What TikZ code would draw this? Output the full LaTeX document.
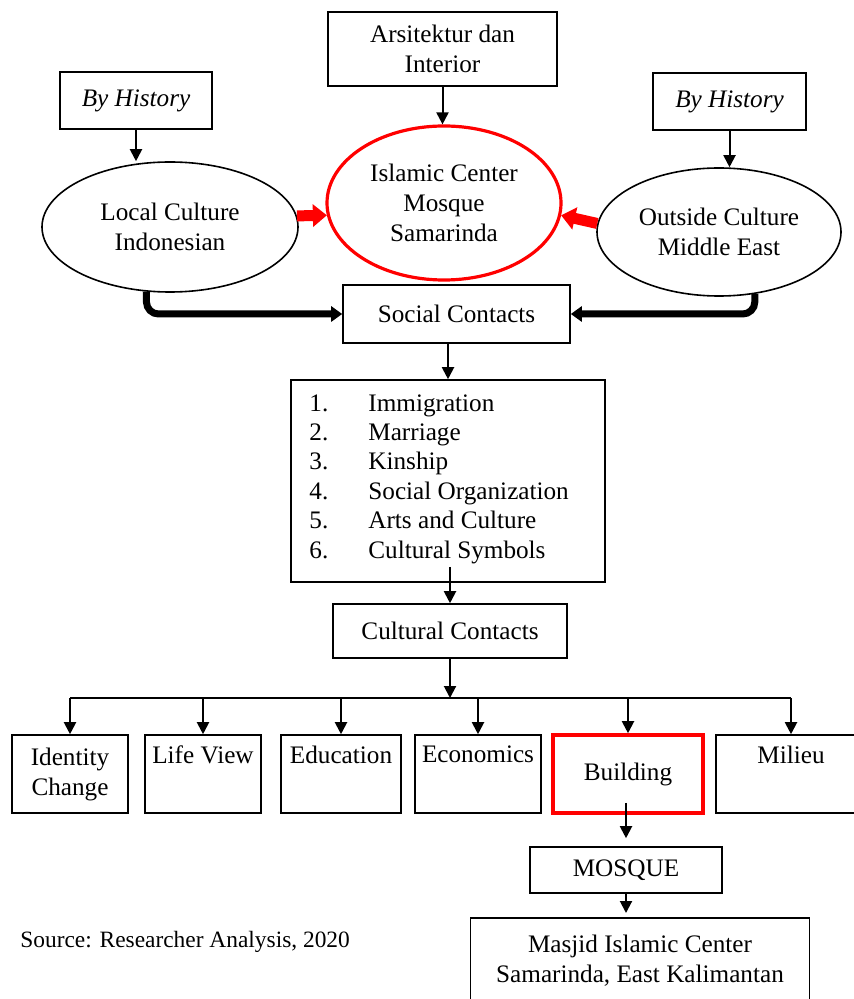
\documentclass[tikz,border=0pt]{standalone}
\usepackage{fontspec}
\setmainfont{Liberation Serif}
\usepackage{tikz}
\usetikzlibrary{positioning}
\usetikzlibrary{shapes.geometric}
\usetikzlibrary{arrows.meta}

\begin{document}
\begin{tikzpicture}[x=0.5pt, y=-0.5pt,
  txt/.style={font=\fontsize{12.6pt}{15pt}\selectfont},
  box/.style={txt, draw, line width=0.8pt, rectangle, inner sep=0pt, align=center},
  oval/.style={txt, draw, line width=0.8pt, ellipse, inner sep=0pt, align=center},
  arr/.style={line width=1pt, -{Triangle[length=6pt,width=6pt]}},
  fatred/.style={red, line width=5.5pt, -{Triangle[length=7pt,width=11pt]}},
  fatblack/.style={line width=3.5pt, rounded corners=6pt, -{Triangle[length=5.5pt,width=7.5pt]}},
  busline/.style={line width=1.3pt}]

\useasboundingbox (0,0) rectangle (854,999);

% TOP %
%%%%%%%%%%%% history and cultures %%%%%%%%%%%%
\node[box, minimum width=114.5pt, minimum height=37pt] (arch) at (442.5,49) {Arsitektur dan\\Interior};
\node[box, minimum width=76pt, minimum height=28.5pt] (histL) at (136,100.5) {\itshape By History};
\node[box, minimum width=76.5pt, minimum height=28.5pt] (histR) at (729.5,101.5) {\itshape By History};

\node[oval, minimum width=128pt, minimum height=65pt] (local) at (170,227) {Local Culture\\Indonesian};
\node[oval, draw=red, line width=1.6pt, minimum width=117pt, minimum height=77pt] (icm) at (444,203) {Islamic Center\\Mosque\\Samarinda};
\node[oval, minimum width=122pt, minimum height=64pt] (outside) at (719,232) {Outside Culture\\Middle East};

\draw[arr] (arch.south) -- (arch.south |- icm.north);
\draw[arr] (histL.south) -- (local.north -| histL.south);
\draw[arr] (histR.south) -- (outside.north -| histR.south);

% red arrows
\draw[fatred] (local.5) -- (icm.186);
\draw[fatred] (outside.176) -- (icm.354);

% MIDDLE %
\node[box, minimum width=113.5pt, minimum height=29pt] (social) at (456.5,314) {Social Contacts};

%black lines
\draw[fatblack] (local.250) |- (social.west);
\draw[fatblack] (outside.300) |- (social.east);

\node[box, minimum width=157pt, minimum height=101pt] (list) at (448,481) {};
\node[txt, font=\fontsize{12.6pt}{14.7pt}\selectfont, align=left, inner sep=0pt, anchor=north west] (items) at (309,394)
{\makebox[29.5pt][l]{1.}Immigration\\
 \makebox[29.5pt][l]{2.}Marriage\\
 \makebox[29.5pt][l]{3.}Kinship\\
 \makebox[29.5pt][l]{4.}Social Organization\\
 \makebox[29.5pt][l]{5.}Arts and Culture\\
 \makebox[29.5pt][l]{6.}Cultural Symbols};

\node[box, minimum width=117pt, minimum height=27pt] (cultural) at (450,631) {Cultural Contacts};

\draw[arr] (list.north |- social.south) -- (list.north);
\draw[arr, shorten <=-8pt] (cultural.north |- list.south) -- (cultural.north);

% BOTTOM %
\coordinate (bus) at (444,698);

\node[box, minimum width=58pt, minimum height=39pt] (identity) at (70,774) {Identity\\Change};
\node[box, minimum width=58pt, minimum height=39pt] (lifeview) at (203,774) {Life View\\\strut};
\node[box, minimum width=60pt, minimum height=39pt] (education) at (341,774) {Education\\\strut};
\node[box, minimum width=63pt, minimum height=39pt] (economics) at (478,774) {Economics\\\strut};
\node[box, draw=red, line width=1.8pt, minimum width=75pt, minimum height=39pt] (building) at (628,774) {Building};
\node[box, minimum width=75pt, minimum height=39pt] (milieu) at (791,774) {Milieu\\\strut};

\draw[arr] (cultural.south) -- (cultural.south |- bus);
\draw[busline] (identity.north |- bus) -- (milieu.north |- bus);
\foreach \b in {identity, lifeview, education, economics, building, milieu}
  \draw[arr] (\b.north |- bus) -- (\b.north);

\node[box, minimum width=96pt, minimum height=23pt] (mosque) at (626,870) {MOSQUE};
\node[box, anchor=north, minimum width=169.5pt, minimum height=43pt] (masjid) at (640,917) {Masjid Islamic Center\\Samarinda, East Kalimantan};

\draw[arr, shorten <=-6pt, shorten >=4pt] (building.south -| mosque.north) -- (mosque.north);
\draw[arr, shorten >=2pt] (mosque.south) -- (mosque.south |- masjid.north);

\node[font=\fontsize{11.7pt}{14pt}\selectfont, anchor=base west, inner sep=0pt] (source) at (20,947) {Source: Researcher Analysis, 2020};

\end{tikzpicture}
\end{document}
